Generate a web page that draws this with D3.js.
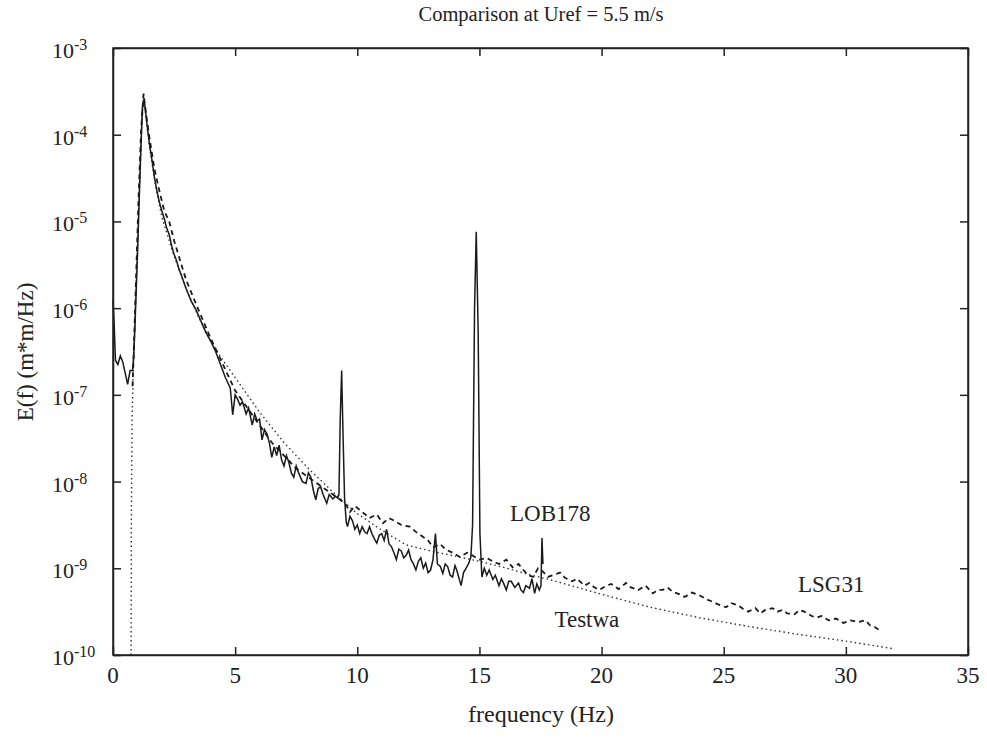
<!DOCTYPE html>
<html>
<head>
<meta charset="utf-8">
<style>
    body { margin: 0; background: #fff; }
    svg text { font-family: "Liberation Serif", "Times New Roman", serif; fill: #222; }
    .axis path, .axis line { fill: none; stroke: #222; stroke-width: 1.5; }
</style>
</head>
<body>
<div id="containerChart"></div>
<script src="https://cdn.jsdelivr.net/npm/d3@7"></script>
<script>
// values, E(f) stored as powers of ten
var lobFreq = [0.0, 0.05, 0.1, 0.2, 0.3, 0.4, 0.5, 0.6, 0.7, 0.8, 0.85, 0.9, 1.0, 1.1, 1.2, 1.25, 1.3, 1.4, 1.5, 1.6, 1.7, 1.8, 1.9, 2.0, 2.1, 2.2, 2.3, 2.4, 2.5, 2.6, 2.7, 2.8, 2.9, 3.0, 3.2, 3.4, 3.6, 3.8, 4.0, 4.2, 4.4, 4.6, 4.8,
    4.9, 5.0, 5.1, 5.2, 5.3, 5.45, 5.55, 5.7, 5.8, 5.9, 6.0, 6.1, 6.2, 6.3, 6.4, 6.5, 6.6, 6.7, 6.8, 6.9, 7.0, 7.1, 7.2, 7.3, 7.4, 7.5, 7.6, 7.75, 7.9, 8.0, 8.1, 8.2, 8.3, 8.4, 8.5, 8.6, 8.75, 8.85, 9.0, 9.1, 9.2, 9.25,
    9.3, 9.36, 9.42, 9.48,
    9.55, 9.6, 9.7, 9.8, 9.9, 10.0, 10.1, 10.2, 10.3, 10.4, 10.5, 10.6, 10.7, 10.8, 10.9, 11.0, 11.1, 11.2, 11.3, 11.4, 11.5, 11.6, 11.7, 11.8, 11.9, 12.0, 12.1, 12.2, 12.3, 12.4, 12.5, 12.6, 12.7, 12.8, 12.9, 13.0, 13.1, 13.2, 13.28, 13.4, 13.5, 13.6, 13.7, 13.8, 13.9, 14.0, 14.07, 14.15, 14.25, 14.35, 14.45, 14.55, 14.65,
    14.72, 14.8, 14.87, 14.95, 15.02,
    15.1, 15.2, 15.3, 15.4, 15.55, 15.65, 15.8, 15.9, 16.0, 16.1, 16.2, 16.3, 16.45, 16.6, 16.7, 16.8, 16.9, 17.05, 17.15, 17.26, 17.35, 17.45, 17.52, 17.56, 17.6];
var lobExp = [-5.9, -6.2, -6.6, -6.65, -6.55, -6.62, -6.75, -6.88, -6.72, -6.72, -6.55, -6.2, -5.4, -4.5, -3.7, -3.62, -3.65, -3.9, -4.12, -4.3, -4.5, -4.65, -4.78, -4.88, -4.97, -5.08, -5.15, -5.28, -5.38, -5.45, -5.55, -5.62, -5.7, -5.78, -5.92, -6.02, -6.15, -6.28, -6.38, -6.5, -6.65, -6.8, -6.92,
    -7.23, -7.0, -7.05, -7.12, -7.08, -7.22, -7.15, -7.35, -7.22, -7.3, -7.28, -7.52, -7.4, -7.45, -7.55, -7.72, -7.6, -7.7, -7.58, -7.75, -7.82, -7.7, -7.78, -7.9, -7.95, -7.82, -7.9, -8.0, -8.02, -7.9, -7.95, -8.1, -8.21, -8.08, -8.06, -8.15, -8.25, -8.15, -8.2, -8.17, -8.19, -8.15,
    -7.3, -6.72, -7.5, -8.2,
    -8.47, -8.52, -8.4, -8.45, -8.55, -8.5, -8.6, -8.52, -8.58, -8.6, -8.52, -8.6, -8.66, -8.71, -8.62, -8.6, -8.68, -8.55, -8.72, -8.75, -8.82, -8.9, -8.78, -8.8, -8.88, -8.85, -8.79, -8.9, -8.95, -9.02, -8.92, -8.88, -9.0, -8.94, -9.05, -9.02, -8.9, -8.6, -8.95, -8.98, -9.06, -8.95, -8.98, -9.08, -9.1, -8.97, -9.02, -9.1, -9.2, -9.05, -9.0, -8.95, -8.87,
    -8.5, -6.0, -5.12, -6.3, -8.6,
    -9.1, -9.0, -9.08, -9.02, -9.13, -9.08, -9.2, -9.12, -9.18, -9.25, -9.15, -9.15, -9.22, -9.17, -9.25, -9.28, -9.2, -9.23, -9.12, -9.29, -9.18, -9.25, -9.2, -8.65, -8.95];

var lsgFreq = [0.8, 0.85, 0.95, 1.05, 1.15, 1.25, 1.35, 1.5, 1.7, 1.9, 2.1, 2.3, 2.5, 2.8, 3.0, 3.5, 4.0, 4.5, 5.0, 5.5, 6.0, 6.5, 7.0, 7.5, 8.0, 8.5, 9.0,
    9.5, 9.7, 9.9, 10.2, 10.5, 10.8, 11.05, 11.3, 11.5, 11.8, 12.15, 12.4, 12.6, 12.9, 13.1, 13.4, 13.6, 13.9, 14.2, 14.5, 14.7, 15.0, 15.3, 15.6, 15.8, 16.1, 16.36, 16.6, 16.8, 17.0, 17.2, 17.4, 17.6, 17.8, 18.0, 18.3, 18.5, 18.8, 19.0, 19.3, 19.5, 19.7, 19.9,
    20.2, 20.4, 20.7, 21.0, 21.2, 21.5, 21.8, 22.1, 22.3, 22.5, 22.7, 22.9, 23.2, 23.4, 23.7, 24.0, 24.3, 24.5, 24.8, 25.1, 25.3, 25.6, 25.8, 26.0, 26.3, 26.5, 26.7, 27.0, 27.2, 27.4, 27.6, 27.9, 28.1, 28.3, 28.6, 28.8, 29.0, 29.3, 29.6, 29.9, 30.2, 30.5, 30.8, 31.0, 31.2, 31.45];
var lsgExp = [-6.9, -6.5, -5.6, -4.7, -3.95, -3.53, -3.75, -4.05, -4.4, -4.65, -4.88, -5.0, -5.22, -5.5, -5.68, -6.02, -6.35, -6.65, -6.95, -7.15, -7.35, -7.55, -7.7, -7.85, -7.95, -8.05, -8.15,
    -8.25, -8.35, -8.28, -8.35, -8.42, -8.38, -8.48, -8.42, -8.45, -8.5, -8.52, -8.58, -8.62, -8.68, -8.76, -8.72, -8.78, -8.82, -8.87, -8.82, -8.85, -8.9, -8.88, -8.93, -8.95, -8.9, -8.99, -8.95, -9.02, -9.08, -9.1, -9.0, -9.04, -9.1, -9.08, -9.05, -9.11, -9.15, -9.12, -9.2, -9.17, -9.22, -9.25,
    -9.2, -9.18, -9.24, -9.17, -9.22, -9.25, -9.2, -9.29, -9.25, -9.25, -9.22, -9.27, -9.3, -9.33, -9.28, -9.31, -9.36, -9.38, -9.42, -9.45, -9.4, -9.43, -9.47, -9.5, -9.46, -9.52, -9.48, -9.46, -9.5, -9.48, -9.52, -9.53, -9.48, -9.5, -9.55, -9.57, -9.55, -9.6, -9.58, -9.63, -9.6, -9.62, -9.6, -9.66, -9.68, -9.73];

var testFreq = [0.74, 0.75, 0.78, 0.85, 0.95, 1.05, 1.15, 1.25, 1.35, 1.5, 1.75, 2.0, 2.5, 3.0, 3.5, 4.0, 4.5, 5.0, 5.5, 6.0, 7.0, 8.0, 9.0, 10.0, 11.0, 12.0, 13.0, 14.0, 15.0, 16.0, 17.0, 18.0, 19.0, 20.0, 22.0, 24.0, 26.0, 28.0, 30.0, 32.0];
var testExp = [-10, -8.5, -7.3, -6.5, -5.7, -4.9, -4.1, -3.52, -3.8, -4.15, -4.6, -4.95, -5.4, -5.78, -6.1, -6.38, -6.6, -6.8, -7.0, -7.2, -7.55, -7.85, -8.12, -8.37, -8.56, -8.73, -8.8, -8.86, -8.92, -8.99, -9.07, -9.14, -9.22, -9.3, -9.45, -9.57, -9.67, -9.76, -9.84, -9.93];

var xTicks = [0, 5, 10, 15, 20, 25, 30, 35];
var yTickExp = [-3, -4, -5, -6, -7, -8, -9, -10];

var seriesLabels = [
    { name: "LOB178", f: 17.9, e: -8.46 },
    { name: "LSG31", f: 29.4, e: -9.27 },
    { name: "Testwa", f: 19.4, e: -9.68 }
];

var svgW = 987, svgH = 744;
var plotLeft = 113, plotRight = 968, plotTop = 48, plotBottom = 655;

var svg = d3.select("#containerChart")
    .append("svg")
    .attr("width", svgW)
    .attr("height", svgH);

var xScale = d3.scaleLinear().domain([0, 35]).range([plotLeft, plotRight]);
var yScale = d3.scaleLog().domain([1e-10, 1e-3]).range([plotBottom, plotTop]);

function pts(fs, es) {
    return fs.map(function (f, i) { return [f, Math.pow(10, es[i])]; });
}
var line = d3.line()
    .x(function (d) { return xScale(d[0]); })
    .y(function (d) { return yScale(d[1]); });

var yVals = yTickExp.map(function (e) { return Math.pow(10, e); });

// axes, ticks pointing inwards on all four sides
svg.append("g").attr("class", "axis")
    .attr("transform", "translate(0," + plotBottom + ")")
    .call(d3.axisBottom(xScale).tickValues(xTicks).tickSize(-8).tickSizeOuter(0).tickFormat(""));
svg.append("g").attr("class", "axis")
    .attr("transform", "translate(0," + plotTop + ")")
    .call(d3.axisTop(xScale).tickValues(xTicks).tickSize(-8).tickSizeOuter(0).tickFormat(""));
svg.append("g").attr("class", "axis")
    .attr("transform", "translate(" + plotLeft + ",0)")
    .call(d3.axisLeft(yScale).tickValues(yVals).tickSize(-8).tickSizeOuter(0).tickFormat(""));
svg.append("g").attr("class", "axis")
    .attr("transform", "translate(" + plotRight + ",0)")
    .call(d3.axisRight(yScale).tickValues(yVals).tickSize(-8).tickSizeOuter(0).tickFormat(""));

// x tick labels
svg.selectAll(".xlab")
    .data(xTicks)
    .enter().append("text")
    .attr("x", function (d) { return xScale(d); })
    .attr("y", plotBottom + 28)
    .attr("text-anchor", "middle")
    .style("font-size", "23px")
    .text(function (d) { return d; });

// y tick labels as 10 with superscript exponent
var ylab = svg.selectAll(".ylab")
    .data(yTickExp)
    .enter().append("text")
    .attr("x", 52)
    .attr("y", function (d) { return yScale(Math.pow(10, d)) + 10; })
    .style("font-size", "22px");
ylab.append("tspan").text("10");
ylab.append("tspan")
    .attr("dy", -8)
    .style("font-size", "16px")
    .text(function (d) { return d; });

// curves
svg.append("path")
    .attr("d", line(pts(testFreq, testExp)))
    .attr("fill", "none")
    .attr("stroke", "#333")
    .attr("stroke-width", 1.4)
    .attr("stroke-dasharray", "1.5,3");

svg.append("path")
    .attr("d", line(pts(lsgFreq, lsgExp)))
    .attr("fill", "none")
    .attr("stroke", "#1a1a1a")
    .attr("stroke-width", 1.8)
    .attr("stroke-dasharray", "5,4");

svg.append("path")
    .attr("d", line(pts(lobFreq, lobExp)))
    .attr("fill", "none")
    .attr("stroke", "#1a1a1a")
    .attr("stroke-width", 1.5);

// frame
svg.append("rect")
    .attr("x", plotLeft).attr("y", plotTop)
    .attr("width", plotRight - plotLeft).attr("height", plotBottom - plotTop)
    .attr("fill", "none")
    .attr("stroke", "#222")
    .attr("stroke-width", 1.5);

// series names
svg.selectAll(".slab")
    .data(seriesLabels)
    .enter().append("text")
    .attr("x", function (d) { return xScale(d.f); })
    .attr("y", function (d) { return yScale(Math.pow(10, d.e)); })
    .attr("text-anchor", "middle")
    .style("font-size", "23px")
    .text(function (d) { return d.name; });

svg.append("text")
    .attr("x", 541).attr("y", 21)
    .attr("text-anchor", "middle")
    .style("font-size", "20.5px")
    .text("Comparison at Uref = 5.5 m/s");

svg.append("text")
    .attr("x", 541).attr("y", 722)
    .attr("text-anchor", "middle")
    .style("font-size", "24px")
    .text("frequency (Hz)");

svg.append("text")
    .attr("transform", "translate(33,352) rotate(-90)")
    .attr("text-anchor", "middle")
    .style("font-size", "23px")
    .text("E(f) (m*m/Hz)");
</script>
</body>
</html>
